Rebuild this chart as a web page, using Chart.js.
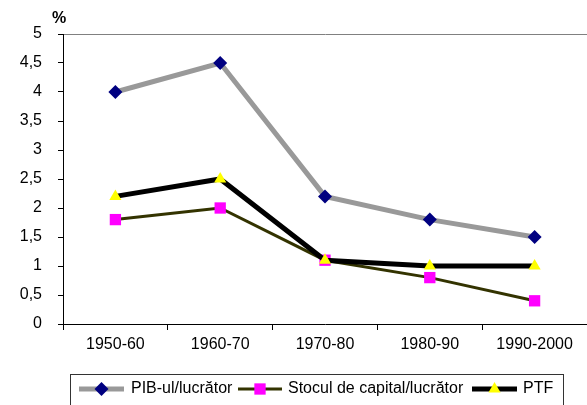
<!DOCTYPE html>
<html>
<head>
<meta charset="utf-8">
<script src="https://cdn.jsdelivr.net/npm/chart.js@4/dist/chart.umd.min.js"></script>
<style>
html,body{margin:0;padding:0;background:#fff;}
#wrap{width:587px;height:405px;position:relative;}
</style>
</head>
<body>
<div id="wrap"><canvas id="c" width="587" height="405"></canvas></div>
<script>
const categories = ['1950-60', '1960-70', '1970-80', '1980-90', '1990-2000'];
const pibValues = [4.0, 4.5, 2.2, 1.8, 1.5];
const stocValues = [1.8, 2.0, 1.1, 0.8, 0.4];
const ptfValues = [2.2, 2.5, 1.1, 1.0, 1.0];
const seriesNames = ['PIB-ul/lucrător', 'Stocul de capital/lucrător', 'PTF'];
const yTickLabels = ['0', '0,5', '1', '1,5', '2', '2,5', '3', '3,5', '4', '4,5', '5'];
const unitLabel = '%';

const FONT = '"Liberation Sans", Arial, sans-serif';
const FS = 16;

const seriesStyles = [
  {line:'#999999', lw:5, marker:'#000080', style:'rectRot', r:7},
  {line:'#333300', lw:3, marker:'#FF00FF', style:'rect', r:8},
  {line:'#000000', lw:5, marker:'#FFFF00', style:'triangle', r:7}
];
const seriesData = [pibValues, stocValues, ptfValues];

function drawMarker(ctx, st, x, y) {
  ctx.save();
  ctx.fillStyle = st.marker;
  ctx.beginPath();
  if (st.style === 'rectRot') {
    ctx.moveTo(x - st.r, y); ctx.lineTo(x, y - st.r); ctx.lineTo(x + st.r, y); ctx.lineTo(x, y + st.r);
  } else if (st.style === 'rect') {
    const s = st.r * Math.SQRT1_2;
    ctx.rect(x - s, y - s, 2 * s, 2 * s);
  } else {
    const r = st.r;
    ctx.moveTo(x, y - r);
    ctx.lineTo(x + Math.sin(2*Math.PI/3) * r, y - Math.cos(2*Math.PI/3) * r);
    ctx.lineTo(x + Math.sin(4*Math.PI/3) * r, y - Math.cos(4*Math.PI/3) * r);
  }
  ctx.closePath();
  ctx.fill();
  ctx.restore();
}

const extras = {
  id: 'extras',
  afterDraw(chart) {
    const ctx = chart.ctx;
    ctx.save();
    ctx.font = 'bold ' + FS + 'px ' + FONT;
    ctx.fillStyle = '#000';
    ctx.textAlign = 'center';
    ctx.textBaseline = 'middle';
    ctx.fillText(unitLabel, 59, 19);
    ctx.strokeStyle = '#333';
    ctx.lineWidth = 1;
    ctx.strokeRect(70.5, 374.5, 493, 40);
    const items = [
      {x1:79, x2:124, tx:131},
      {x1:238, x2:282, tx:288},
      {x1:472, x2:517, tx:523}
    ];
    const ly = 389;
    ctx.font = FS + 'px ' + FONT;
    ctx.textAlign = 'left';
    items.forEach((it, i) => {
      const st = seriesStyles[i];
      ctx.strokeStyle = st.line;
      ctx.lineWidth = st.lw;
      ctx.beginPath();
      ctx.moveTo(it.x1, ly); ctx.lineTo(it.x2, ly);
      ctx.stroke();
      drawMarker(ctx, st, (it.x1 + it.x2) / 2, ly);
      ctx.fillStyle = '#000';
      ctx.fillText(seriesNames[i], it.tx, ly);
    });
    ctx.restore();
  }
};

const datasets = seriesData.map((d, i) => ({
  label: seriesNames[i],
  data: d,
  borderColor: seriesStyles[i].line,
  borderWidth: seriesStyles[i].lw,
  pointStyle: seriesStyles[i].style,
  pointRadius: seriesStyles[i].r,
  pointHoverRadius: seriesStyles[i].r,
  pointBackgroundColor: seriesStyles[i].marker,
  pointBorderColor: seriesStyles[i].marker,
  pointBorderWidth: 0,
  fill: false,
  tension: 0,
  clip: false,
  order: 2 - i
}));

new Chart(document.getElementById('c'), {
  type: 'line',
  data: { labels: categories, datasets },
  options: {
    responsive: false,
    animation: false,
    devicePixelRatio: 1,
    layout: { autoPadding: false, padding: { left: 0, right: 0, top: 34, bottom: 0 } },
    plugins: { legend: { display: false }, tooltip: { enabled: false } },
    scales: {
      x: {
        offset: true,
        grid: { offset: true, drawOnChartArea: false, tickLength: 6, color: '#000', tickColor: '#000' },
        border: { color: '#000', width: 1 },
        ticks: { color: '#000', font: { family: FONT, size: FS }, padding: 5, maxRotation: 0, autoSkip: false },
        afterFit(scale) { scale.height = 81; }
      },
      y: {
        min: 0, max: 5,
        grid: {
          drawOnChartArea: true, tickLength: 5,
          color: (c) => (c.tick && c.tick.value === 5) ? '#808080' : 'rgba(0,0,0,0)',
          tickColor: '#000'
        },
        border: { color: '#000', width: 1 },
        ticks: {
          stepSize: 0.5, color: '#000', font: { family: FONT, size: FS }, padding: 16,
          callback: (v, idx) => yTickLabels[idx]
        },
        afterFit(scale) { scale.width = 63; }
      }
    }
  },
  plugins: [extras]
});
</script>
</body>
</html>
